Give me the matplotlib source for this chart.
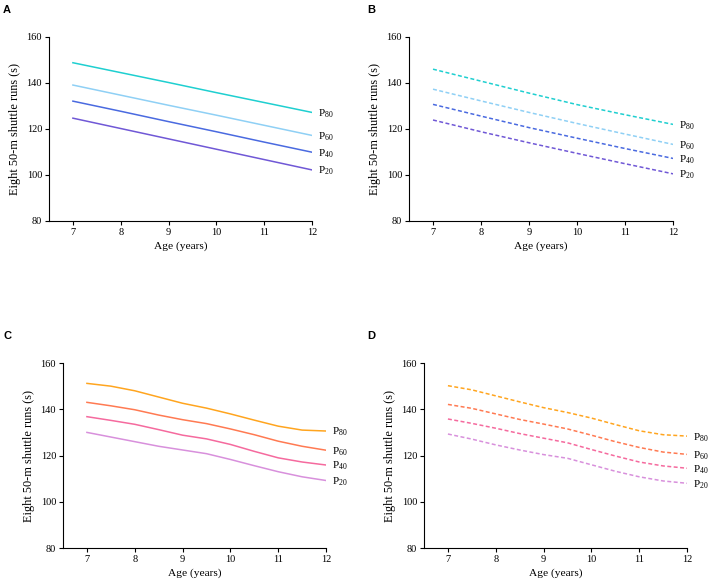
import matplotlib
matplotlib.use("Agg")
import matplotlib.pyplot as plt

plt.rcParams["font.family"] = "Liberation Serif"
plt.rcParams["mathtext.fontset"] = "custom"
plt.rcParams["mathtext.rm"] = "Liberation Serif"
plt.rcParams["mathtext.it"] = "Liberation Serif"

# ages (years)
age_int = [7, 8, 9, 10, 11, 12]
age_half = [7, 7.5, 8, 8.5, 9, 9.5, 10, 10.5, 11, 11.5, 12]
pct_labels = ["P$_{80}$", "P$_{60}$", "P$_{40}$", "P$_{20}$"]

# panel A (solid, linear)
a_p80 = [148.8, 144.5, 140.2, 135.8, 131.5, 127.2]
a_p60 = [139.1, 134.7, 130.3, 126.0, 121.6, 117.2]
a_p40 = [132.1, 127.7, 123.2, 118.8, 114.3, 109.9]
a_p20 = [124.7, 120.2, 115.7, 111.2, 106.7, 102.2]

# panel B (dashed)
b_p80 = [146.0, 140.8, 135.6, 130.6, 126.2, 122.0]
b_p60 = [137.3, 132.2, 127.2, 122.4, 117.8, 113.3]
b_p40 = [130.7, 125.6, 120.6, 116.0, 111.5, 107.2]
b_p20 = [123.9, 118.8, 114.0, 109.4, 104.9, 100.5]

# panel C (solid)
c_p80 = [151.2, 150.0, 148.0, 145.3, 142.6, 140.5, 138.0, 135.3, 132.7, 131.0, 130.6]
c_p60 = [143.0, 141.5, 139.8, 137.5, 135.5, 133.8, 131.5, 129.0, 126.2, 124.0, 122.3]
c_p40 = [136.8, 135.2, 133.5, 131.2, 128.8, 127.2, 124.8, 121.8, 119.0, 117.2, 115.9]
c_p20 = [130.0, 128.0, 126.0, 124.0, 122.4, 120.8, 118.3, 115.6, 113.0, 110.8, 109.2]

# panel D (dashed)
d_p80 = [150.2, 148.4, 145.8, 143.2, 140.7, 138.6, 136.2, 133.4, 130.7, 129.0, 128.4]
d_p60 = [142.1, 140.4, 138.0, 135.6, 133.6, 131.5, 128.8, 126.0, 123.5, 121.5, 120.5]
d_p40 = [135.8, 133.9, 131.8, 129.5, 127.5, 125.5, 122.6, 119.8, 117.2, 115.5, 114.5]
d_p20 = [129.3, 127.1, 124.6, 122.4, 120.4, 118.8, 116.0, 113.2, 110.8, 109.0, 108.0]

blues = ["#1fcfd0", "#8fd0f5", "#4a6ae0", "#7058d6"]
warms = ["#ffa51f", "#ff7a52", "#f56a9e", "#d890dc"]

panels = [
    ("A", [0.0692, 0.6229, 0.3715, 0.314], age_int, [a_p80, a_p60, a_p40, a_p20], blues, "-"),
    ("B", [0.5777, 0.6229, 0.3729, 0.314], age_int, [b_p80, b_p60, b_p40, b_p20], blues, "--"),
    ("C", [0.0890, 0.0648, 0.3715, 0.3157], age_half, [c_p80, c_p60, c_p40, c_p20], warms, "-"),
    ("D", [0.5989, 0.0648, 0.3715, 0.3157], age_half, [d_p80, d_p60, d_p40, d_p20], warms, "--"),
]

fig = plt.figure(figsize=(7.08, 5.86), dpi=100)

for letter, rect, ages, series, cols, ls in panels:
    ax = fig.add_axes(rect)
    for vals, col, lab in zip(series, cols, pct_labels):
        if ls == "--":
            ax.plot(ages, vals, color=col, lw=1.1, linestyle=(0, (2.6, 1.6)))
        else:
            ax.plot(ages, vals, color=col, lw=1.1)
        ax.text(12.12, vals[-1] - 0.5, lab, fontsize=8, va="center", ha="left")
    ax.set_xlim(6.5, 12)
    ax.set_ylim(80, 160)
    ax.set_xticks(age_int)
    ax.set_yticks([80, 100, 120, 140, 160])
    ax.spines["top"].set_visible(False)
    ax.spines["right"].set_visible(False)
    ax.spines["left"].set_linewidth(0.8)
    ax.spines["bottom"].set_linewidth(0.8)
    ax.tick_params(labelsize=7.5, length=3, width=0.8, pad=2)
    ax.set_xlabel("Age (years)", fontsize=8.2, labelpad=3)
    ax.set_ylabel("Eight 50-m shuttle runs (s)", fontsize=8.8, labelpad=4)
    ax.patch.set_alpha(0)

fig.text(3 / 708, 1 - 10 / 586, "A", fontsize=8, fontweight="bold", family="Liberation Sans", va="center")
fig.text(367 / 708, 1 - 10 / 586, "B", fontsize=8, fontweight="bold", family="Liberation Sans", va="center")
fig.text(3 / 708, 1 - 336 / 586, "C", fontsize=8, fontweight="bold", family="Liberation Sans", va="center")
fig.text(367 / 708, 1 - 336 / 586, "D", fontsize=8, fontweight="bold", family="Liberation Sans", va="center")

fig.savefig("out.png", dpi=100)
